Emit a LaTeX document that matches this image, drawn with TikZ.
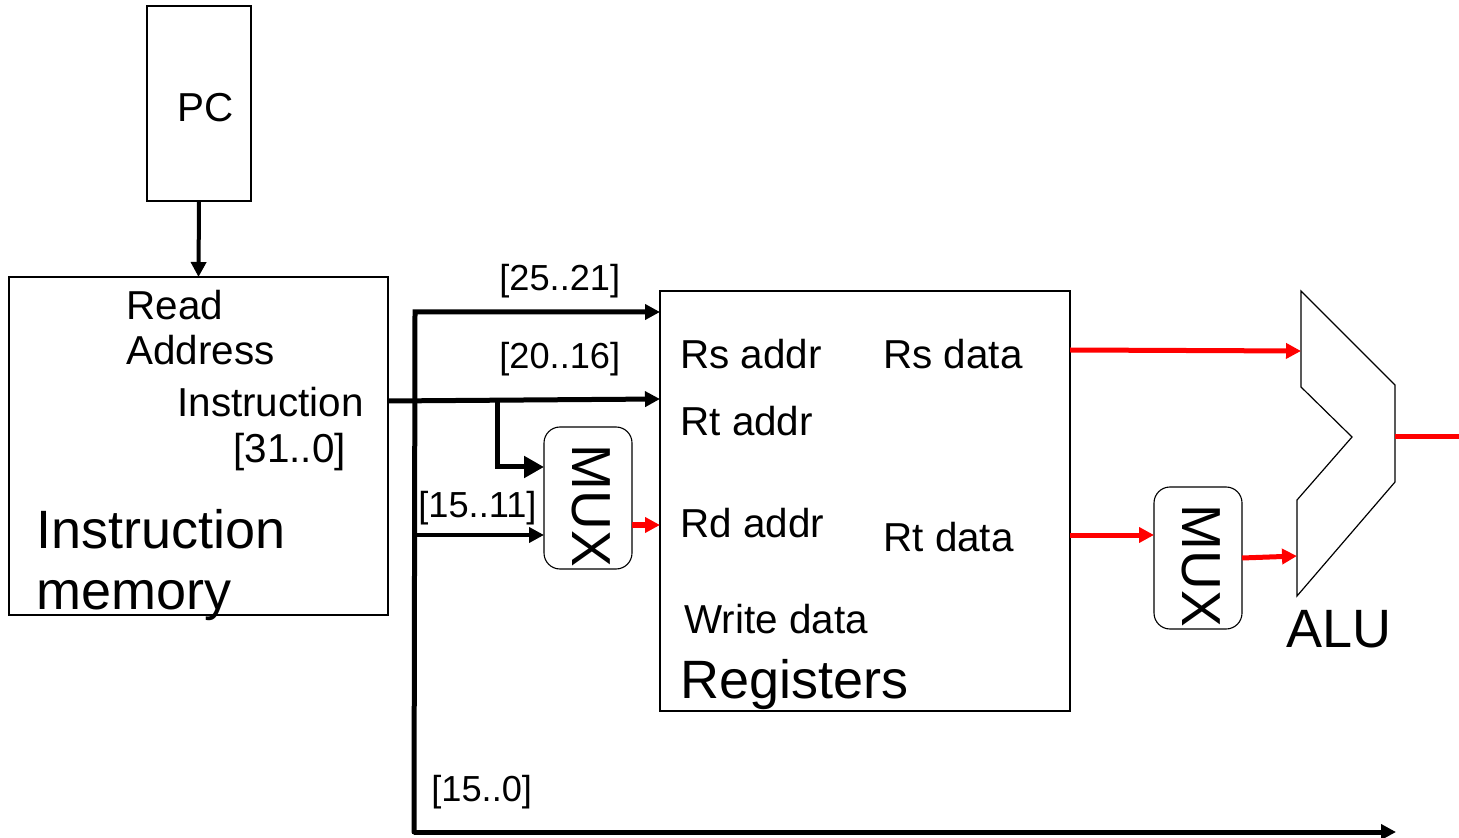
\documentclass[tikz,border=0pt]{standalone}
\usepackage{fontspec}
\setmainfont{Liberation Sans}
\usepackage{xcolor}
\usetikzlibrary{arrows.meta}
\definecolor{wireRed}{HTML}{FF0000}
\begin{document}
\begin{tikzpicture}[x=0.5pt,y=-0.5pt,>={Triangle[length=7.5pt,width=7.5pt]},
  box/.style={draw,line width=0.55pt,inner sep=0pt,outer sep=0pt},
  muxbox/.style={box,rounded corners=8pt,minimum width=44pt,minimum height=71pt},
  lbl/.style={anchor=base west,inner sep=0pt,font=\fontsize{20.2}{24}\selectfont},
  bits/.style={anchor=base west,inner sep=0pt,font=\fontsize{18.1}{22}\selectfont},
  big/.style={anchor=base west,inner sep=0pt,font=\fontsize{27}{32}\selectfont},
  muxtxt/.style={rotate=-90,inner sep=0pt,font=\fontsize{27.5}{32}\selectfont},
  wire/.style={->,line width=2pt},
  redwire/.style={->,wireRed,line width=2.5pt}]
\useasboundingbox (0,0) rectangle (1459,838);
% --- blocks ---
\node[box,minimum width=52pt,minimum height=97.5pt] (pc) at (199,103.5) {};
\node[box,minimum width=189.5pt,minimum height=169pt] (imem) at (198.5,446) {};
\node[box,minimum width=205pt,minimum height=210pt] (regs) at (865,501) {};
\node[muxbox] (muxA) at (588,498) {};
\node[muxbox] (muxB) at (1198,558) {};
\draw[line width=0.6pt] (1301,291) -- (1395,385) -- (1395,482) -- (1297,596) -- (1297,500)
  -- (1352,437) -- (1301,387) -- cycle;
% --- texts ---
\node[lbl] (pcT) at (177,122) {PC};
\foreach \x/\y/\n/\t in {126/320/read/Read,126/365/addr/Address,177/417/instr/Instruction,233/463/range/{[31..0]},
  680/369/rsA/Rs addr,883/369/rsD/Rs data,680/436/rtA/Rt addr,680/538/rdA/Rd addr,883/552/rtD/Rt data,684/633/wrD/Write data}
  {\node[lbl] (\n) at (\x,\y) {\t};}
\foreach \x/\y/\n/\t in {499/291/bitsA/{[25..21]},499/369/bitsB/{[20..16]},418/517/bitsC/{[15..11]},431/801/bitsD/{[15..0]}}
  {\node[bits] (\n) at (\x,\y) {\t};}
\foreach \x/\y/\n/\t in {36/548/imemA/Instruction,36/609/imemB/memory,680/698/regsT/Registers,1286/647/aluT/ALU}
  {\node[big] (\n) at (\x,\y) {\t};}
\node[muxtxt] (muxAT) at (591,506) {MUX};
\node[muxtxt] (muxBT) at (1201,566) {MUX};
% --- junction points ---
\coordinate (imemOut) at (388,401);
\coordinate (rtIn) at (660,399);
\coordinate (rsIn) at (660,312);
\coordinate (trunkTop) at (415,312);
\coordinate (trunkBot) at (414,832);
\coordinate (immEnd) at (1396,832);
\coordinate (split) at (497,400);
\coordinate (splitBot) at (497,467);
\coordinate (muxAi) at (544,467);
\coordinate (trunkC) at (415,535);
\coordinate (muxAj) at (544,535);
\coordinate (muxAo) at (632,525);
\coordinate (rdIn) at (660,525);
\coordinate (rsOut) at (1070,350);
\coordinate (aluA) at (1301,351);
\coordinate (rtOut) at (1070,535);
\coordinate (muxBi) at (1154,535);
\coordinate (muxBo) at (1242,558);
\coordinate (aluB) at (1297,556);
\coordinate (aluOut) at (1395,437);
\coordinate (aluEnd) at (1459,437);
% --- wires ---
\draw[wire] (pc.south) -- (imem.north);
\draw[wire,line width=2.5pt] (imemOut) -- (rtIn);
\draw[wire,line width=2.5pt] (immEnd-|trunkBot) -- (immEnd);
\draw[wire,line width=2.5pt,line cap=round] (trunkBot) -- (trunkTop) -- (rsIn);
\draw[line width=2.5pt,-{Triangle[length=10pt,width=10.5pt]}] (split) -- (splitBot) -- (muxAi);
\draw[wire] (trunkC) -- (muxAj);
\draw[redwire] (muxAo) -- (rdIn);
\draw[redwire] (rsOut) -- (aluA);
\draw[redwire] (rtOut) -- (muxBi);
\draw[redwire] (muxBo) -- (aluB);
\draw[wireRed,line width=2.5pt] (aluOut) -- (aluEnd);
\end{tikzpicture}
\end{document}
